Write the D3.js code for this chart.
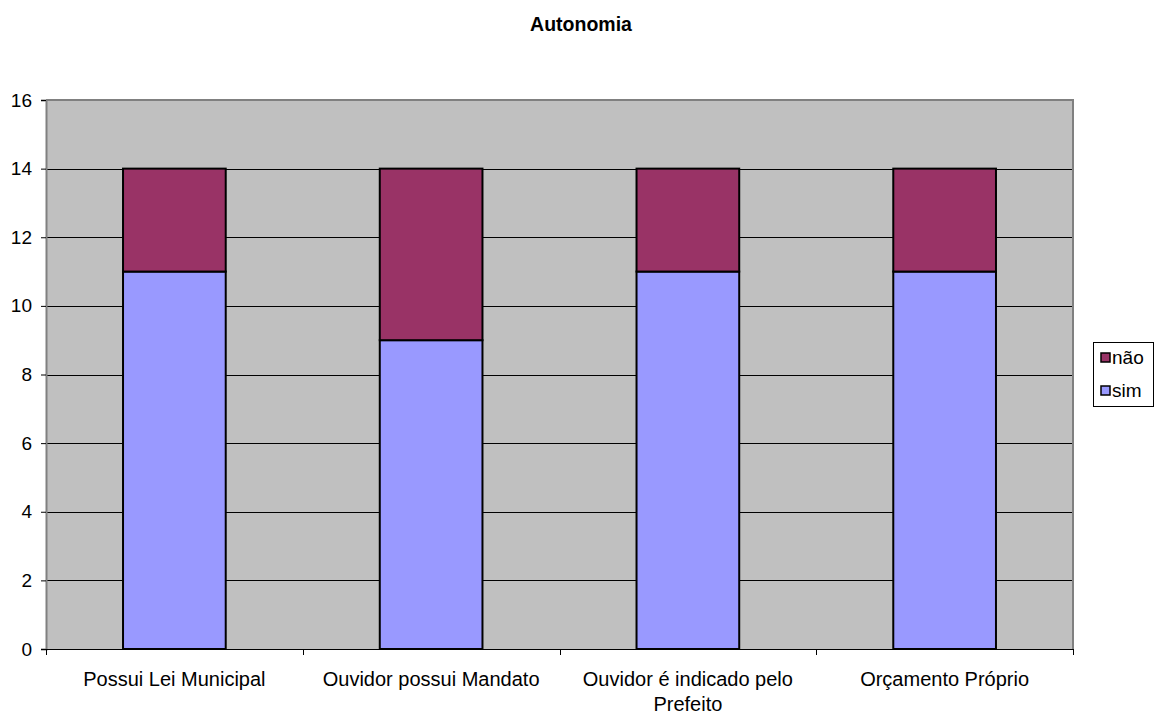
<!DOCTYPE html>
<html><head><meta charset="utf-8">
<script src="https://cdn.jsdelivr.net/npm/d3@7"></script>
<style>
html,body{margin:0;padding:0;background:#fff;}
svg{display:block;font-family:"Liberation Sans",Arial,sans-serif;}
</style></head>
<body>
<svg id="chart" width="1160" height="714"></svg>
<script>
const title = "Autonomia";
const categories = ["Possui Lei Municipal", "Ouvidor possui Mandato", "Ouvidor é indicado pelo Prefeito", "Orçamento Próprio"];
const simValues = [11, 9, 11, 11];
const naoValues = [3, 5, 3, 3];
const seriesNames = ["sim", "não"];
const yTicks = [0, 2, 4, 6, 8, 10, 12, 14, 16];

const colors = {"sim": "#9999FF", "não": "#993366"};
const svg = d3.select("#chart");
const plot = {left: 46, right: 1073, top: 100, bottom: 649};

const x = d3.scaleBand().domain(categories).range([plot.left, plot.right]).padding(0);
const y = d3.scaleLinear().domain([0, 16]).range([plot.bottom, plot.top]);

// plot background
svg.append("rect").attr("x", plot.left).attr("y", plot.top)
  .attr("width", plot.right - plot.left).attr("height", plot.bottom - plot.top)
  .attr("fill", "#C0C0C0");

// gridlines
svg.append("g").selectAll("line").data(yTicks.filter(d => d > 0 && d < 16)).join("line")
  .attr("x1", plot.left).attr("x2", plot.right)
  .attr("y1", d => Math.round(y(d)) + 0.5).attr("y2", d => Math.round(y(d)) + 0.5)
  .attr("stroke", "#000").attr("stroke-width", 1);

// border top/right gray
svg.append("path")
  .attr("d", `M${plot.left},${plot.top}H${plot.right}V${plot.bottom}`)
  .attr("fill", "none").attr("stroke", "#808080").attr("stroke-width", 2);

// stacked data
const rows = categories.map((c, i) => ({cat: c, sim: simValues[i], "não": naoValues[i]}));
const stacked = d3.stack().keys(seriesNames)(rows);
const barW = x.bandwidth() * 0.4;

svg.append("g").selectAll("g").data(stacked).join("g")
  .attr("fill", d => colors[d.key])
  .selectAll("rect").data(d => d).join("rect")
  .attr("x", d => x(d.data.cat) + (x.bandwidth() - barW) / 2)
  .attr("y", d => y(d[1]))
  .attr("width", barW)
  .attr("height", d => y(d[0]) - y(d[1]))
  .attr("stroke", "#000").attr("stroke-width", 2);

// left axis
const yAxis = d3.axisLeft(y).tickValues(yTicks).tickSize(5).tickPadding(9).tickFormat(d3.format("d"));
const gy = svg.append("g").attr("transform", `translate(${plot.left},0)`).call(yAxis);
gy.attr("font-size", 19).attr("font-family", "Liberation Sans, Arial, sans-serif");
gy.select(".domain").attr("stroke", "#808080").attr("stroke-width", 2);
gy.selectAll(".tick line").attr("stroke", "#000");
gy.selectAll(".tick text").attr("fill", "#000");

// bottom axis line
svg.append("line").attr("x1", plot.left - 5).attr("x2", plot.right)
  .attr("y1", plot.bottom + 0.5).attr("y2", plot.bottom + 0.5)
  .attr("stroke", "#000").attr("stroke-width", 1);

// category boundary ticks
const bounds = categories.map(c => x(c)).concat([plot.right]);
svg.append("g").selectAll("line").data(bounds).join("line")
  .attr("x1", d => Math.round(d) + 0.5).attr("x2", d => Math.round(d) + 0.5)
  .attr("y1", plot.bottom).attr("y2", plot.bottom + 6)
  .attr("stroke", "#000");

// category labels with wrapping
const catG = svg.append("g").attr("font-size", 20).attr("fill", "#000").attr("text-anchor", "middle");
categories.forEach(c => {
  const cx = x(c) + x.bandwidth() / 2;
  const t = catG.append("text").attr("x", cx).attr("y", 686);
  const words = c.split(" ");
  let line = [];
  let tspan = t.append("tspan").attr("x", cx).attr("dy", 0);
  words.forEach(w => {
    line.push(w);
    tspan.text(line.join(" "));
    if (tspan.node().getComputedTextLength() > 240 && line.length > 1) {
      line.pop();
      tspan.text(line.join(" "));
      line = [w];
      tspan = t.append("tspan").attr("x", cx).attr("dy", 25).text(w);
    }
  });
});

// title
svg.append("text").attr("x", 581).attr("y", 31).attr("text-anchor", "middle")
  .attr("font-size", 19.5).attr("font-weight", "bold").text(title);

// legend
const lg = svg.append("g");
lg.append("rect").attr("x", 1093.5).attr("y", 342.5).attr("width", 60).attr("height", 64)
  .attr("fill", "#fff").attr("stroke", "#000").attr("stroke-width", 1);
const legendOrder = ["não", "sim"];
legendOrder.forEach((k, i) => {
  const yy = 353 + i * 33;
  lg.append("rect").attr("x", 1101).attr("y", yy).attr("width", 9).attr("height", 9)
    .attr("fill", colors[k]).attr("stroke", "#000").attr("stroke-width", 1.5);
  lg.append("text").attr("x", 1112).attr("y", yy + 11).attr("font-size", 19).text(k);
});
</script>
</body></html>
